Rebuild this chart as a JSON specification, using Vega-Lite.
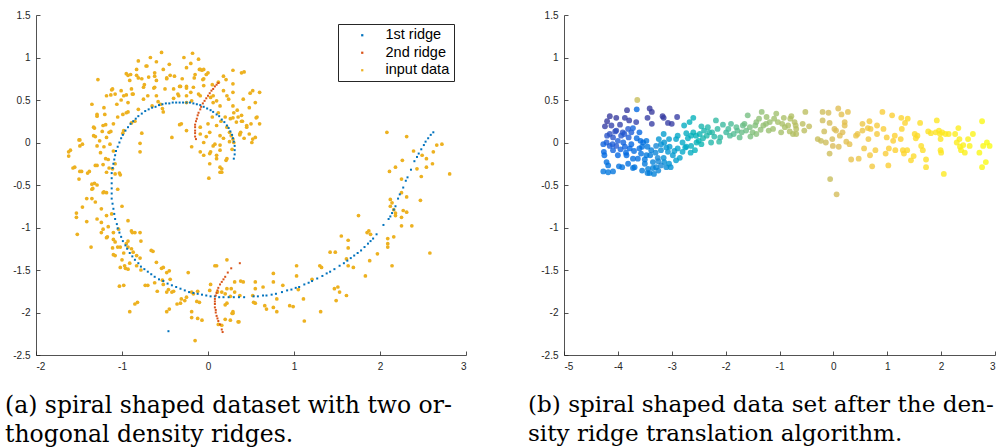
{
  "$schema": "https://vega.github.io/schema/vega-lite/v6.json",
  "padding": {"left": 5, "top": 10, "right": 0, "bottom": 0},
  "bounds": "flush",
  "spacing": 98,
  "config": {
    "view": {"stroke": null},
    "axis": {
      "grid": false,
      "title": null,
      "domainColor": "#262626",
      "tickColor": "#262626",
      "labelColor": "#262626",
      "labelFont": "Liberation Sans",
      "labelFontSize": 10,
      "domainWidth": 0.8,
      "tickWidth": 0.8,
      "tickSize": -4,
      "labelPadding": 10
    },
    "title": {"font": "DejaVu Serif", "fontSize": 23.5, "fontWeight": "normal", "color": "#000000", "lineHeight": 29}
  },
  "resolve": {"scale": {"x": "independent", "y": "independent", "color": "independent"}},
  "datasets": {
    "input": [
      {"x":-0.54,"y":1.06},{"x":-0.18,"y":1.05},{"x":-0.81,"y":0.96},{"x":-0.67,"y":1.0},{"x":-0.28,"y":1.0},{"x":-0.11,"y":0.98},{"x":-0.71,"y":0.9},{"x":-0.52,"y":0.86},{"x":-0.2,"y":0.93},{"x":-0.25,"y":0.88},{"x":-0.09,"y":0.86},{"x":-0.07,"y":0.85},{"x":-0.05,"y":0.86},{"x":0.0,"y":0.82},{"x":0.29,"y":0.85},{"x":0.42,"y":0.83},
      {"x":-0.95,"y":0.81},{"x":-0.83,"y":0.79},{"x":-0.62,"y":0.82},{"x":-0.44,"y":0.79},{"x":-1.28,"y":0.74},{"x":-0.91,"y":0.73},{"x":-0.77,"y":0.75},{"x":-0.69,"y":0.77},{"x":-0.6,"y":0.73},{"x":-0.48,"y":0.75},
      {"x":-1.12,"y":0.62},{"x":-1.01,"y":0.61},{"x":-0.89,"y":0.63},{"x":-0.75,"y":0.65},{"x":-0.62,"y":0.65},{"x":-0.5,"y":0.63},{"x":-0.4,"y":0.63},{"x":-0.33,"y":0.66},{"x":-0.25,"y":0.66},{"x":-0.17,"y":0.65},{"x":-0.05,"y":0.67},{"x":0.12,"y":0.71},{"x":0.18,"y":0.78},{"x":0.29,"y":0.69},
      {"x":-1.18,"y":0.55},{"x":-1.08,"y":0.57},{"x":-0.98,"y":0.55},{"x":-0.87,"y":0.57},{"x":-0.75,"y":0.51},{"x":-0.6,"y":0.55},{"x":-0.35,"y":0.57},{"x":-0.25,"y":0.55},{"x":-0.09,"y":0.55},{"x":0.06,"y":0.55},{"x":0.22,"y":0.55},{"x":0.49,"y":0.58},{"x":0.6,"y":0.59},
      {"x":-1.35,"y":0.45},{"x":-1.21,"y":0.41},{"x":-1.06,"y":0.45},{"x":-0.93,"y":0.47},{"x":-0.81,"y":0.39},{"x":-0.65,"y":0.43},{"x":-0.52,"y":0.36},{"x":-0.25,"y":0.47},{"x":-0.19,"y":0.49},{"x":0.06,"y":0.47},{"x":0.14,"y":0.43},{"x":0.24,"y":0.51},{"x":0.29,"y":0.43},{"x":0.55,"y":0.47},
      {"x":-1.29,"y":0.31},{"x":0.57,"y":0.3},{"x":0.39,"y":0.32},{"x":0.26,"y":0.28},{"x":0.33,"y":0.24},{"x":-1.33,"y":0.18},{"x":-1.22,"y":0.2},{"x":-1.1,"y":0.22},{"x":-0.98,"y":0.14},{"x":-0.31,"y":0.22},{"x":0.0,"y":0.22},{"x":0.1,"y":0.2},{"x":-0.09,"y":0.18},{"x":0.22,"y":0.18},{"x":0.45,"y":0.18},{"x":0.6,"y":0.22},
      {"x":-0.77,"y":0.11},{"x":-0.42,"y":0.06},{"x":-0.09,"y":0.1},{"x":0.02,"y":0.12},{"x":0.14,"y":0.08},{"x":0.27,"y":0.08},{"x":0.37,"y":0.1},{"x":0.55,"y":0.06},{"x":-1.33,"y":0.08},{"x":-1.26,"y":0.02},{"x":-1.18,"y":0.06},{"x":-1.5,"y":0.03},
      {"x":-1.62,"y":-0.11},{"x":-1.62,"y":-0.16},{"x":-1.49,"y":-0.04},{"x":-1.29,"y":-0.04},{"x":-1.14,"y":-0.02},{"x":-0.79,"y":-0.11},{"x":-0.19,"y":-0.05},{"x":-0.05,"y":0.0},{"x":0.06,"y":-0.04},{"x":-0.09,"y":-0.11},{"x":0.02,"y":-0.13},{"x":0.14,"y":-0.09},{"x":0.22,"y":-0.19},{"x":0.1,"y":-0.19},{"x":0.29,"y":0.04},{"x":0.51,"y":0.0},{"x":0.02,"y":-0.25},{"x":0.14,"y":-0.29},{"x":0.16,"y":-0.35},{"x":0.01,"y":-0.42},
      {"x":0.3,"y":0.35},{"x":0.35,"y":0.3},{"x":0.4,"y":0.25},{"x":0.45,"y":0.2},{"x":0.38,"y":0.12},{"x":0.42,"y":0.05},{"x":0.2,"y":0.3},{"x":0.15,"y":0.25},{"x":0.25,"y":0.12},{"x":0.3,"y":0.0},{"x":0.05,"y":0.3},{"x":0.12,"y":0.35},{"x":0.48,"y":0.1},{"x":0.5,"y":0.22},{"x":0.34,"y":0.38},{"x":0.18,"y":0.05},{"x":0.08,"y":-0.02},{"x":0.28,"y":-0.08},
      {"x":-1.05,"y":0.3},{"x":-0.95,"y":0.35},{"x":-1.15,"y":0.12},{"x":-0.85,"y":0.25},{"x":-0.7,"y":0.55},{"x":-0.55,"y":0.45},{"x":-0.4,"y":0.52},{"x":-0.15,"y":0.8},{"x":-0.3,"y":0.75},{"x":-0.6,"y":0.95},{"x":-0.45,"y":0.92},{"x":-0.05,"y":0.75},{"x":0.05,"y":0.68},{"x":-0.9,"y":0.8},{"x":-1.2,"y":0.33},{"x":-1.25,"y":-0.12},{"x":-1.1,"y":-0.1},{"x":-1.05,"y":-0.55},{"x":-1.0,"y":-0.75},{"x":-1.15,"y":-0.3},
      {"x":-1.11,"y":0.63},{"x":-1.13,"y":0.56},{"x":-1.29,"y":0.33},{"x":-1.19,"y":0.21},{"x":-1.31,"y":0.07},{"x":-1.23,"y":0.13},{"x":-1.13,"y":0.13},{"x":-0.99,"y":0.11},{"x":-1.32,"y":0.17},{"x":-1.49,"y":0.03},{"x":-1.6,"y":-0.09},{"x":-1.46,"y":-0.02},{"x":-1.21,"y":-0.05},{"x":-1.55,"y":-0.29},{"x":-1.47,"y":-0.34},{"x":-1.38,"y":-0.34},{"x":-1.29,"y":-0.27},{"x":-1.16,"y":-0.2},{"x":-1.11,"y":-0.31},{"x":-1.03,"y":-0.36},{"x":-1.32,"y":-0.48},{"x":-1.21,"y":-0.58},{"x":-1.34,"y":-0.54},
      {"x":-0.72,"y":0.9},{"x":-0.83,"y":0.86},{"x":-0.93,"y":0.79},{"x":-0.81,"y":0.76},{"x":-0.62,"y":0.78},{"x":-0.48,"y":0.76},{"x":-0.39,"y":0.78},{"x":-0.1,"y":0.86},{"x":-0.02,"y":0.8},{"x":-0.06,"y":0.74},{"x":-0.16,"y":0.76},{"x":-0.25,"y":0.64},{"x":-0.32,"y":0.66},{"x":-0.63,"y":0.64},{"x":-0.74,"y":0.68},{"x":-0.88,"y":0.57},{"x":-0.95,"y":0.56},{"x":-1.01,"y":0.5},{"x":-0.93,"y":0.36},{"x":-0.99,"y":0.33},{"x":-0.89,"y":0.23},{"x":-0.58,"y":0.48},{"x":-0.53,"y":0.4},{"x":-0.34,"y":0.55},{"x":-0.2,"y":0.59},{"x":-0.11,"y":0.57},{"x":0.03,"y":0.53},{"x":0.1,"y":0.49},{"x":0.18,"y":0.61},{"x":0.39,"y":0.82},{"x":0.21,"y":0.74},{"x":0.29,"y":0.59},{"x":0.41,"y":0.51},{"x":0.52,"y":0.61},{"x":0.48,"y":0.41},{"x":0.29,"y":0.29},{"x":0.39,"y":0.25},{"x":0.56,"y":0.29},{"x":0.52,"y":0.04},{"x":0.37,"y":0.09},{"x":0.25,"y":0.01},{"x":0.14,"y":-0.03},{"x":0.03,"y":-0.11},{"x":0.1,"y":-0.15},{"x":0.21,"y":-0.21},{"x":-0.05,"y":-0.15},{"x":-0.02,"y":0.07},{"x":-0.25,"y":0.14},{"x":-0.33,"y":0.21},{"x":-0.79,"y":-0.01},{"x":0.14,"y":-0.35},{"x":0.16,"y":-0.31},
      {"x":-1.57,"y":-0.3},{"x":-1.49,"y":-0.34},{"x":-1.5,"y":-0.43},{"x":-1.4,"y":-0.36},{"x":-1.31,"y":-0.27},{"x":-1.22,"y":-0.26},{"x":-1.18,"y":-0.35},{"x":-1.08,"y":-0.37},{"x":-1.02,"y":-0.38},{"x":-1.19,"y":-0.19},{"x":-1.08,"y":-0.25},
      {"x":-1.35,"y":-0.49},{"x":-1.29,"y":-0.5},{"x":-1.35,"y":-0.55},{"x":-1.22,"y":-0.59},{"x":-1.18,"y":-0.59},{"x":-1.41,"y":-0.66},{"x":-1.35,"y":-0.66},{"x":-1.31,"y":-0.7},{"x":-1.46,"y":-0.76},{"x":-1.53,"y":-0.83},{"x":-1.53,"y":-0.88},{"x":-1.29,"y":-0.9},{"x":-1.24,"y":-0.78},{"x":-1.18,"y":-0.86},{"x":-1.12,"y":-0.84},
      {"x":-1.41,"y":-0.93},{"x":-1.24,"y":-0.94},{"x":-1.22,"y":-1.02},{"x":-1.24,"y":-1.06},{"x":-1.18,"y":-1.12},{"x":-1.52,"y":-1.08},{"x":-1.36,"y":-1.23},{"x":-1.1,"y":-1.06},{"x":-1.04,"y":-1.02},{"x":-0.93,"y":-0.92},{"x":-0.89,"y":-1.04},{"x":-0.85,"y":-1.06},{"x":-0.79,"y":-1.06},
      {"x":-1.16,"y":-0.99},{"x":-1.17,"y":-1.11},{"x":-1.1,"y":-1.14},{"x":-1.05,"y":-1.23},{"x":-1.11,"y":-1.24},{"x":-0.93,"y":-1.16},{"x":-0.88,"y":-1.06},{"x":-0.78,"y":-1.16},{"x":-0.93,"y":-1.23},{"x":-0.87,"y":-1.29},{"x":-0.79,"y":-1.36},{"x":-0.98,"y":-1.3},{"x":-1.1,"y":-1.32},{"x":-1.0,"y":-1.38},{"x":-0.91,"y":-1.42},{"x":-0.96,"y":-1.48},{"x":-0.78,"y":-1.5},{"x":-0.64,"y":-1.28},{"x":-0.54,"y":-1.48},{"x":-0.45,"y":-1.51},{"x":-0.7,"y":-1.68},{"x":-0.53,"y":-1.62},{"x":-0.46,"y":-1.73},{"x":-0.4,"y":-1.75},{"x":-0.23,"y":-1.53},{"x":-0.32,"y":-1.89},{"x":-0.25,"y":-1.82},{"x":-0.12,"y":-1.75},{"x":-0.13,"y":-1.87},{"x":-0.12,"y":-2.07},{"x":-0.45,"y":-1.96},{"x":-0.82,"y":-1.88},{"x":0.08,"y":-1.45},{"x":0.11,"y":-1.76},{"x":0.2,"y":-1.78},{"x":0.27,"y":-1.72},{"x":0.38,"y":-1.63},{"x":0.37,"y":-1.8},{"x":0.2,"y":-1.91},{"x":0.28,"y":-2.01},{"x":0.2,"y":-2.08},{"x":0.36,"y":-2.11},{"x":0.12,"y":-2.14},{"x":0.52,"y":-1.8},{"x":0.55,"y":-1.89},
      {"x":-1.08,"y":-1.17},{"x":-1.02,"y":-1.23},{"x":-1.08,"y":-1.33},{"x":-0.95,"y":-1.19},{"x":-0.89,"y":-1.25},{"x":-0.83,"y":-1.33},{"x":-1.02,"y":-1.47},{"x":-0.97,"y":-1.45},{"x":-0.93,"y":-1.49},{"x":-0.83,"y":-1.45},{"x":-0.66,"y":-1.27},{"x":-0.6,"y":-1.41},{"x":-0.52,"y":-1.47},{"x":-0.48,"y":-1.53},{"x":-0.44,"y":-1.61},
      {"x":-0.62,"y":-1.65},{"x":-0.52,"y":-1.67},{"x":-0.73,"y":-1.68},{"x":-1.03,"y":-1.69},{"x":-0.98,"y":-1.68},{"x":-0.59,"y":-1.75},{"x":-0.48,"y":-1.76},{"x":-0.42,"y":-1.76},{"x":-0.85,"y":-1.9},{"x":-0.91,"y":-1.99},{"x":-0.48,"y":-1.99},{"x":-0.31,"y":-1.84},{"x":-0.27,"y":-1.86},{"x":-0.36,"y":-1.9},
      {"x":-0.19,"y":-1.76},{"x":-0.17,"y":-1.78},{"x":-0.1,"y":-1.88},{"x":-0.19,"y":-1.99},{"x":-0.19,"y":-2.06},{"x":-0.07,"y":-2.09},{"x":-0.15,"y":-2.33},{"x":0.03,"y":-1.67},{"x":0.1,"y":-1.45},{"x":0.22,"y":-1.38},{"x":0.02,"y":-1.74},{"x":0.16,"y":-1.76},{"x":0.22,"y":-1.72},{"x":0.31,"y":-1.64},
      {"x":0.26,"y":-1.81},{"x":0.22,"y":-1.89},{"x":0.29,"y":-1.99},{"x":0.29,"y":-2.01},{"x":0.26,"y":-2.09},{"x":0.35,"y":-2.11},{"x":0.16,"y":-2.15},{"x":0.41,"y":-1.64},{"x":0.31,"y":-1.76},
      {"x":0.55,"y":-1.64},{"x":0.55,"y":-1.72},{"x":0.53,"y":-1.88},{"x":0.64,"y":-1.7},{"x":0.66,"y":-1.92},{"x":0.76,"y":-1.54},{"x":0.76,"y":-1.64},{"x":0.68,"y":-1.96},{"x":0.76,"y":-1.94},{"x":0.8,"y":-1.99},{"x":0.8,"y":-1.84},{"x":0.87,"y":-1.68},{"x":0.95,"y":-1.92},{"x":0.99,"y":-1.93},
      {"x":1.03,"y":-1.45},{"x":1.03,"y":-1.57},{"x":1.05,"y":-1.73},{"x":1.11,"y":-1.84},{"x":1.12,"y":-2.1},{"x":1.21,"y":-1.61},{"x":1.3,"y":-1.45},{"x":1.32,"y":-1.47},{"x":1.31,"y":-1.99},{"x":1.42,"y":-1.29},{"x":1.48,"y":-1.29},{"x":1.55,"y":-1.1},{"x":1.63,"y":-1.15},{"x":1.63,"y":-1.24},{"x":1.61,"y":-1.37},{"x":1.63,"y":-1.45},{"x":1.69,"y":-1.47},
      {"x":1.51,"y":-1.7},{"x":1.47,"y":-1.72},{"x":1.53,"y":-1.76},{"x":1.61,"y":-1.8},{"x":1.49,"y":-1.86},{"x":1.75,"y":-0.86},{"x":1.85,"y":-1.06},{"x":1.87,"y":-1.04},{"x":1.89,"y":-1.08},{"x":1.88,"y":-1.39},{"x":1.83,"y":-1.57},{"x":1.97,"y":-1.31},
      {"x":2.09,"y":-1.13},{"x":2.09,"y":-1.19},{"x":2.09,"y":-1.23},{"x":2.14,"y":-1.45},{"x":2.16,"y":-1.11},{"x":2.12,"y":-0.67},{"x":2.14,"y":-0.71},{"x":2.16,"y":-0.79},{"x":2.18,"y":-0.83},{"x":2.12,"y":-0.75},{"x":2.18,"y":-0.86},{"x":2.25,"y":-0.59},{"x":2.27,"y":-0.8},{"x":2.31,"y":-0.82},{"x":2.25,"y":-0.88},{"x":2.25,"y":-0.98},{"x":2.37,"y":-0.98},{"x":2.47,"y":-0.68},{"x":2.31,"y":-0.64},
      {"x":2.08,"y":0.12},{"x":2.11,"y":-0.34},{"x":2.18,"y":-0.29},{"x":2.26,"y":-0.21},{"x":2.25,"y":-0.43},{"x":2.31,"y":0.07},{"x":2.39,"y":-0.1},{"x":2.43,"y":-0.31},{"x":2.48,"y":-0.4},{"x":2.49,"y":-0.15},{"x":2.54,"y":-0.19},{"x":2.62,"y":-0.11},{"x":2.66,"y":-0.03},{"x":2.72,"y":-0.02},{"x":2.61,"y":-0.25},{"x":2.54,"y":-0.29},{"x":2.81,"y":-0.37},{"x":2.58,"y":-1.3}
    ],
    "ridge1": [
      {"x":0.3,"y":-0.19},{"x":0.31,"y":-0.14},{"x":0.31,"y":-0.09},{"x":0.31,"y":-0.04},{"x":0.3,"y":0.01},{"x":0.29,"y":0.05},{"x":0.28,"y":0.09},{"x":0.26,"y":0.13},{"x":0.24,"y":0.17},{"x":0.22,"y":0.2},{"x":0.19,"y":0.24},{"x":0.16,"y":0.27},{"x":0.13,"y":0.31},{"x":0.1,"y":0.33},{"x":0.06,"y":0.36},{"x":0.03,"y":0.38},{"x":-0.01,"y":0.4},{"x":-0.05,"y":0.42},{"x":-0.09,"y":0.44},{"x":-0.13,"y":0.45},{"x":-0.17,"y":0.46},{"x":-0.21,"y":0.47},{"x":-0.25,"y":0.47},{"x":-0.29,"y":0.47},{"x":-0.33,"y":0.47},{"x":-0.37,"y":0.47},{"x":-0.41,"y":0.47},{"x":-0.45,"y":0.46},{"x":-0.49,"y":0.46},{"x":-0.53,"y":0.45},{"x":-0.57,"y":0.44},{"x":-0.61,"y":0.42},{"x":-0.65,"y":0.41},{"x":-0.69,"y":0.39},{"x":-0.73,"y":0.37},{"x":-0.77,"y":0.34},{"x":-0.81,"y":0.31},{"x":-0.84,"y":0.28},{"x":-0.87,"y":0.25},{"x":-0.9,"y":0.22},{"x":-0.93,"y":0.18},{"x":-0.96,"y":0.14},{"x":-0.99,"y":0.09},{"x":-1.01,"y":0.05},{"x":-1.03,"y":0.0},{"x":-1.05,"y":-0.05},{"x":-1.07,"y":-0.1},{"x":-1.08,"y":-0.15},{"x":-1.09,"y":-0.2},{"x":-1.1,"y":-0.25},{"x":-1.11,"y":-0.3},{"x":-1.12,"y":-0.36},{"x":-1.12,"y":-0.42},{"x":-1.12,"y":-0.48},{"x":-1.12,"y":-0.54},{"x":-1.12,"y":-0.6},{"x":-1.12,"y":-0.66},{"x":-1.11,"y":-0.72},{"x":-1.1,"y":-0.78},{"x":-1.09,"y":-0.84},{"x":-1.08,"y":-0.9},{"x":-1.06,"y":-0.96},{"x":-1.05,"y":-1.01},{"x":-1.03,"y":-1.06},{"x":-1.01,"y":-1.11},{"x":-0.99,"y":-1.16},{"x":-0.96,"y":-1.21},{"x":-0.94,"y":-1.25},{"x":-0.91,"y":-1.3},{"x":-0.88,"y":-1.34},{"x":-0.85,"y":-1.38},{"x":-0.81,"y":-1.42},{"x":-0.78,"y":-1.46},{"x":-0.74,"y":-1.49},{"x":-0.7,"y":-1.52},{"x":-0.66,"y":-1.55},{"x":-0.62,"y":-1.58},{"x":-0.57,"y":-1.61},{"x":-0.52,"y":-1.63},{"x":-0.47,"y":-1.66},{"x":-0.42,"y":-1.68},{"x":-0.37,"y":-1.7},{"x":-0.32,"y":-1.72},{"x":-0.27,"y":-1.74},{"x":-0.22,"y":-1.76},{"x":-0.17,"y":-1.77},{"x":-0.12,"y":-1.78},{"x":-0.07,"y":-1.79},{"x":-0.02,"y":-1.8},{"x":0.03,"y":-1.81},{"x":0.08,"y":-1.81},{"x":0.13,"y":-1.82},{"x":0.18,"y":-1.82},{"x":0.24,"y":-1.82},{"x":0.3,"y":-1.82},{"x":0.36,"y":-1.82},{"x":0.42,"y":-1.82},{"x":0.53,"y":-1.81},{"x":0.58,"y":-1.81},{"x":0.64,"y":-1.8},{"x":0.68,"y":-1.8},{"x":0.74,"y":-1.79},{"x":0.79,"y":-1.78},{"x":0.86,"y":-1.76},{"x":0.92,"y":-1.74},{"x":0.97,"y":-1.73},{"x":1.02,"y":-1.71},{"x":1.06,"y":-1.7},{"x":1.12,"y":-1.67},{"x":1.17,"y":-1.65},{"x":1.21,"y":-1.63},{"x":1.27,"y":-1.6},{"x":1.33,"y":-1.57},{"x":1.38,"y":-1.54},{"x":1.42,"y":-1.52},{"x":1.47,"y":-1.49},{"x":1.53,"y":-1.45},{"x":1.58,"y":-1.42},{"x":1.62,"y":-1.39},{"x":1.66,"y":-1.36},{"x":1.7,"y":-1.33},{"x":1.74,"y":-1.3},{"x":1.78,"y":-1.27},{"x":1.82,"y":-1.23},{"x":1.86,"y":-1.19},{"x":1.89,"y":-1.16},{"x":1.92,"y":-1.13},{"x":1.96,"y":-1.08},{"x":2.04,"y":-0.97},{"x":2.1,"y":-0.9},{"x":2.12,"y":-0.87},{"x":2.14,"y":-0.83},{"x":2.16,"y":-0.79},{"x":2.18,"y":-0.75},{"x":2.21,"y":-0.66},{"x":2.23,"y":-0.61},{"x":2.27,"y":-0.53},{"x":2.3,"y":-0.45},{"x":2.32,"y":-0.41},{"x":2.36,"y":-0.32},{"x":2.4,"y":-0.22},{"x":2.43,"y":-0.17},{"x":2.45,"y":-0.13},{"x":2.48,"y":-0.08},{"x":2.51,"y":-0.03},{"x":2.53,"y":0.01},{"x":2.56,"y":0.05},{"x":2.59,"y":0.09},{"x":2.62,"y":0.12},{"x":-0.46,"y":-2.22}
    ],
    "ridge2": [
      {"x":0.12,"y":0.7},{"x":0.1,"y":0.68},{"x":0.08,"y":0.66},{"x":0.06,"y":0.63},{"x":0.04,"y":0.61},{"x":0.02,"y":0.58},{"x":0.0,"y":0.55},{"x":-0.02,"y":0.52},{"x":-0.04,"y":0.49},{"x":-0.06,"y":0.46},{"x":-0.08,"y":0.42},{"x":-0.09,"y":0.39},{"x":-0.11,"y":0.35},{"x":-0.12,"y":0.32},{"x":-0.13,"y":0.28},{"x":-0.14,"y":0.25},{"x":-0.15,"y":0.21},{"x":-0.15,"y":0.18},{"x":-0.15,"y":0.14},{"x":-0.15,"y":0.11},{"x":-0.15,"y":0.07},{"x":-0.14,"y":0.04},
      {"x":0.37,"y":-1.42},{"x":0.27,"y":-1.48},{"x":0.23,"y":-1.53},{"x":0.2,"y":-1.58},{"x":0.18,"y":-1.61},{"x":0.16,"y":-1.64},{"x":0.14,"y":-1.67},{"x":0.12,"y":-1.71},{"x":0.11,"y":-1.74},{"x":0.1,"y":-1.77},{"x":0.09,"y":-1.8},{"x":0.08,"y":-1.84},{"x":0.08,"y":-1.87},{"x":0.08,"y":-1.9},{"x":0.08,"y":-1.94},{"x":0.09,"y":-1.97},{"x":0.09,"y":-2.0},{"x":0.1,"y":-2.04},{"x":0.11,"y":-2.07},{"x":0.12,"y":-2.1},{"x":0.14,"y":-2.14},{"x":0.16,"y":-2.2},{"x":0.17,"y":-2.23}
    ],
    "translated": [
      {"x":-3.64,"y":0.5,"t":0.72},
      {"x":-4.15,"y":0.31,"t":0.03},{"x":-4.24,"y":0.19,"t":0.04},{"x":-4.2,"y":0.25,"t":0.03},{"x":-4.03,"y":0.29,"t":0.03},{"x":-3.83,"y":0.38,"t":0.03},{"x":-3.87,"y":0.29,"t":0.04},{"x":-3.79,"y":0.26,"t":0.04},{"x":-3.66,"y":0.24,"t":0.05},{"x":-3.41,"y":0.4,"t":0.03},{"x":-3.37,"y":0.36,"t":0.03},{"x":-3.45,"y":0.29,"t":0.04},{"x":-3.37,"y":0.22,"t":0.04},{"x":-3.17,"y":0.31,"t":0.03},{"x":-3.15,"y":0.29,"t":0.04},{"x":-3.07,"y":0.23,"t":0.04},{"x":-3.0,"y":0.22,"t":0.04},{"x":-2.9,"y":0.3,"t":0.04},{"x":-4.12,"y":0.2,"t":0.05},{"x":-3.96,"y":0.21,"t":0.05},{"x":-3.65,"y":0.39,"t":0.14},
      {"x":-4.15,"y":0.1,"t":0.08},{"x":-4.03,"y":0.14,"t":0.07},{"x":-3.91,"y":0.12,"t":0.09},{"x":-3.81,"y":0.16,"t":0.1},{"x":-3.72,"y":0.17,"t":0.12},{"x":-3.75,"y":0.12,"t":0.11},{"x":-3.94,"y":0.08,"t":0.1},{"x":-4.09,"y":0.06,"t":0.09},{"x":-4.21,"y":0.0,"t":0.11},{"x":-4.27,"y":-0.02,"t":0.12},{"x":-4.26,"y":-0.11,"t":0.13},{"x":-4.15,"y":-0.04,"t":0.11},{"x":-4.09,"y":-0.09,"t":0.12},{"x":-4.03,"y":-0.04,"t":0.1},{"x":-4.0,"y":-0.15,"t":0.13},{"x":-3.84,"y":-0.15,"t":0.14},{"x":-3.87,"y":-0.05,"t":0.12},{"x":-3.78,"y":-0.07,"t":0.13},{"x":-3.72,"y":-0.19,"t":0.16},
      {"x":-4.21,"y":-0.23,"t":0.16},{"x":-4.18,"y":-0.27,"t":0.17},{"x":-4.27,"y":-0.34,"t":0.18},{"x":-4.18,"y":-0.35,"t":0.19},{"x":-4.09,"y":-0.34,"t":0.18},{"x":-3.92,"y":-0.29,"t":0.17},{"x":-3.81,"y":-0.25,"t":0.16},{"x":-3.69,"y":-0.29,"t":0.17},{"x":-3.63,"y":-0.19,"t":0.16},{"x":-3.6,"y":-0.07,"t":0.15},{"x":-3.53,"y":0.0,"t":0.16},{"x":-3.47,"y":0.02,"t":0.18},{"x":-3.57,"y":-0.13,"t":0.17},{"x":-3.47,"y":-0.15,"t":0.2},{"x":-3.5,"y":-0.25,"t":0.2},{"x":-3.44,"y":-0.31,"t":0.22},{"x":-3.41,"y":-0.36,"t":0.22},{"x":-3.33,"y":-0.37,"t":0.23},{"x":-3.29,"y":-0.29,"t":0.24},{"x":-3.35,"y":-0.23,"t":0.23},{"x":-3.26,"y":-0.18,"t":0.25},{"x":-3.38,"y":-0.09,"t":0.22},{"x":-3.29,"y":-0.04,"t":0.25},{"x":-3.2,"y":-0.09,"t":0.27},{"x":-3.14,"y":-0.23,"t":0.27},{"x":-3.1,"y":-0.29,"t":0.26},{"x":-3.02,"y":-0.29,"t":0.28},{"x":-3.2,"y":-0.27,"t":0.25},
      {"x":-3.24,"y":0.04,"t":0.3},{"x":-3.15,"y":0.1,"t":0.33},{"x":-3.05,"y":0.04,"t":0.32},{"x":-3.14,"y":0.0,"t":0.3},{"x":-3.04,"y":-0.05,"t":0.31},{"x":-3.07,"y":-0.11,"t":0.3},{"x":-2.98,"y":-0.15,"t":0.32},{"x":-2.92,"y":-0.21,"t":0.33},{"x":-2.89,"y":-0.07,"t":0.35},{"x":-2.92,"y":0.04,"t":0.36},{"x":-2.89,"y":0.08,"t":0.37},{"x":-2.8,"y":0.0,"t":0.38},{"x":-2.8,"y":-0.11,"t":0.37},{"x":-2.77,"y":0.2,"t":0.4},{"x":-2.67,"y":0.24,"t":0.42},{"x":-2.6,"y":0.29,"t":0.42},{"x":-2.73,"y":0.11,"t":0.4},{"x":-2.64,"y":0.08,"t":0.42},{"x":-2.6,"y":0.12,"t":0.43},{"x":-2.54,"y":0.0,"t":0.43},{"x":-2.64,"y":-0.04,"t":0.41},{"x":-2.73,"y":-0.05,"t":0.39},{"x":-2.57,"y":-0.09,"t":0.42},
      {"x":-2.45,"y":0.19,"t":0.46},{"x":-2.48,"y":0.1,"t":0.45},{"x":-2.42,"y":0.05,"t":0.46},{"x":-2.33,"y":0.18,"t":0.47},{"x":-2.3,"y":0.12,"t":0.47},{"x":-2.21,"y":0.07,"t":0.48},{"x":-2.18,"y":0.26,"t":0.49},{"x":-2.27,"y":0.0,"t":0.47},{"x":-2.12,"y":0.01,"t":0.49},{"x":-2.05,"y":0.21,"t":0.5},{"x":-1.99,"y":0.12,"t":0.5},{"x":-1.92,"y":0.08,"t":0.52},{"x":-1.9,"y":0.22,"t":0.52},{"x":-1.78,"y":0.14,"t":0.54},{"x":-1.74,"y":0.06,"t":0.55},{"x":-1.68,"y":0.2,"t":0.56},{"x":-1.59,"y":0.32,"t":0.58},{"x":-1.55,"y":0.18,"t":0.59},{"x":-1.62,"y":0.14,"t":0.57},{"x":-1.54,"y":0.07,"t":0.59},{"x":-1.43,"y":0.24,"t":0.61},{"x":-1.43,"y":0.1,"t":0.61},
      {"x":-1.33,"y":0.36,"t":0.62},{"x":-1.3,"y":0.2,"t":0.63},{"x":-1.24,"y":0.3,"t":0.64},{"x":-1.18,"y":0.24,"t":0.64},{"x":-1.12,"y":0.16,"t":0.65},{"x":-1.06,"y":0.34,"t":0.65},{"x":-1.03,"y":0.24,"t":0.66},{"x":-0.97,"y":0.12,"t":0.66},{"x":-0.92,"y":0.29,"t":0.67},{"x":-0.84,"y":0.2,"t":0.68},{"x":-0.78,"y":0.31,"t":0.68},{"x":-0.75,"y":0.1,"t":0.68},{"x":-0.72,"y":0.24,"t":0.69},{"x":-0.69,"y":0.16,"t":0.69},{"x":-0.57,"y":0.22,"t":0.7},{"x":-0.52,"y":0.36,"t":0.7},{"x":-0.54,"y":0.14,"t":0.7},{"x":-0.45,"y":0.19,"t":0.71},{"x":-0.69,"y":0.1,"t":0.69},{"x":-0.81,"y":0.13,"t":0.68},
      {"x":-4.1,"y":-0.02,"t":0.11},{"x":-4.0,"y":0.02,"t":0.11},{"x":-3.95,"y":-0.08,"t":0.12},{"x":-3.9,"y":0.0,"t":0.12},{"x":-3.85,"y":-0.12,"t":0.14},{"x":-3.75,"y":-0.02,"t":0.13},{"x":-3.7,"y":-0.1,"t":0.15},{"x":-3.65,"y":0.05,"t":0.14},{"x":-3.55,"y":-0.05,"t":0.17},{"x":-3.5,"y":-0.2,"t":0.19},{"x":-3.45,"y":-0.05,"t":0.19},{"x":-3.4,"y":-0.15,"t":0.21},{"x":-3.35,"y":-0.3,"t":0.23},{"x":-3.3,"y":-0.12,"t":0.24},{"x":-3.25,"y":-0.22,"t":0.25},{"x":-3.2,"y":-0.02,"t":0.28},{"x":-3.15,"y":-0.18,"t":0.28},{"x":-3.1,"y":-0.06,"t":0.3},{"x":-3.05,"y":-0.25,"t":0.29},{"x":-2.95,"y":-0.1,"t":0.33},{"x":-2.85,"y":-0.18,"t":0.35},{"x":-2.75,"y":-0.06,"t":0.38},{"x":-2.7,"y":0.05,"t":0.4},{"x":-2.65,"y":-0.12,"t":0.4},{"x":-2.55,"y":0.08,"t":0.43},{"x":-2.5,"y":0.02,"t":0.44},{"x":-2.45,"y":-0.02,"t":0.45},{"x":-2.4,"y":0.14,"t":0.46},{"x":-2.35,"y":0.08,"t":0.47},{"x":-2.25,"y":0.12,"t":0.48},{"x":-2.15,"y":0.16,"t":0.49},{"x":-2.1,"y":0.06,"t":0.49},{"x":-1.95,"y":0.16,"t":0.51},{"x":-1.85,"y":0.1,"t":0.53},{"x":-1.8,"y":0.18,"t":0.54},{"x":-1.7,"y":0.12,"t":0.56},{"x":-1.65,"y":0.22,"t":0.57},{"x":-1.5,"y":0.12,"t":0.6},{"x":-1.45,"y":0.2,"t":0.6},{"x":-1.38,"y":0.28,"t":0.62},{"x":-1.35,"y":0.15,"t":0.62},{"x":-1.25,"y":0.22,"t":0.63},{"x":-1.2,"y":0.14,"t":0.64},{"x":-1.1,"y":0.28,"t":0.65},{"x":-0.95,"y":0.22,"t":0.67},{"x":-0.9,"y":0.18,"t":0.67},{"x":-0.8,"y":0.28,"t":0.68},{"x":-0.7,"y":0.2,"t":0.69},{"x":-3.6,"y":0.12,"t":0.13},{"x":-3.8,"y":0.06,"t":0.11},{"x":-4.05,"y":0.13,"t":0.08},{"x":-4.2,"y":0.08,"t":0.09},{"x":-4.25,"y":-0.15,"t":0.14},{"x":-3.98,"y":-0.28,"t":0.17},{"x":-3.72,"y":-0.3,"t":0.18},{"x":-3.55,"y":-0.33,"t":0.2},{"x":-3.45,"y":-0.36,"t":0.21},{"x":-3.25,"y":-0.33,"t":0.24},{"x":-3.58,"y":0.02,"t":0.15},{"x":-3.88,"y":0.1,"t":0.1},
      {"x":-0.29,"y":0.04,"t":0.72},{"x":-0.23,"y":0.02,"t":0.72},{"x":-0.2,"y":0.36,"t":0.73},{"x":-0.2,"y":0.26,"t":0.73},{"x":-0.17,"y":0.13,"t":0.73},{"x":-0.14,"y":0.0,"t":0.73},{"x":-0.09,"y":0.35,"t":0.74},{"x":-0.07,"y":-0.13,"t":0.73},{"x":-0.06,"y":-0.43,"t":0.72},{"x":-0.07,"y":0.23,"t":0.74},{"x":-0.02,"y":0.04,"t":0.74},{"x":0.02,"y":0.16,"t":0.75},{"x":-0.01,"y":-0.04,"t":0.75},{"x":0.05,"y":0.14,"t":0.76},{"x":0.09,"y":0.4,"t":0.77},{"x":0.1,"y":-0.05,"t":0.76},{"x":0.12,"y":0.08,"t":0.77},{"x":0.15,"y":0.33,"t":0.78},{"x":0.17,"y":0.12,"t":0.77},{"x":0.21,"y":0.24,"t":0.78},{"x":0.21,"y":0.2,"t":0.78},{"x":0.24,"y":0.01,"t":0.78},{"x":0.06,"y":-0.61,"t":0.74},{"x":0.27,"y":0.36,"t":0.79},{"x":0.3,"y":-0.02,"t":0.79},{"x":0.33,"y":-0.2,"t":0.8},
      {"x":0.42,"y":0.08,"t":0.81},{"x":0.45,"y":0.1,"t":0.81},{"x":0.47,"y":-0.19,"t":0.81},{"x":0.54,"y":0.14,"t":0.82},{"x":0.54,"y":0.22,"t":0.82},{"x":0.57,"y":-0.07,"t":0.83},{"x":0.64,"y":0.17,"t":0.83},{"x":0.65,"y":0.04,"t":0.83},{"x":0.67,"y":0.25,"t":0.84},{"x":0.68,"y":-0.15,"t":0.84},{"x":0.69,"y":0.16,"t":0.84},{"x":0.72,"y":-0.28,"t":0.84},{"x":0.78,"y":-0.09,"t":0.85},{"x":0.81,"y":0.2,"t":0.85},{"x":0.81,"y":0.1,"t":0.85},{"x":0.91,"y":0.36,"t":0.86},{"x":0.93,"y":0.16,"t":0.86},{"x":0.97,"y":-0.13,"t":0.86},{"x":0.99,"y":0.06,"t":0.86},{"x":1.02,"y":-0.27,"t":0.87},{"x":1.03,"y":-0.07,"t":0.87},{"x":1.09,"y":0.32,"t":0.87},{"x":1.11,"y":0.02,"t":0.87},{"x":1.14,"y":0.08,"t":0.88},{"x":1.15,"y":-0.09,"t":0.88},
      {"x":1.25,"y":0.04,"t":0.88},{"x":1.26,"y":0.29,"t":0.89},{"x":1.27,"y":0.16,"t":0.89},{"x":1.29,"y":-0.09,"t":0.89},{"x":1.31,"y":-0.13,"t":0.89},{"x":1.33,"y":0.23,"t":0.89},{"x":1.37,"y":-0.09,"t":0.9},{"x":1.38,"y":0.28,"t":0.9},{"x":1.44,"y":-0.21,"t":0.9},{"x":1.49,"y":-0.16,"t":0.91},{"x":1.51,"y":0.1,"t":0.91},{"x":1.53,"y":0.05,"t":0.91},{"x":1.56,"y":0.08,"t":0.91},{"x":1.61,"y":0.23,"t":0.92},{"x":1.63,"y":-0.04,"t":0.92},{"x":1.66,"y":-0.09,"t":0.92},{"x":1.72,"y":-0.2,"t":0.92},{"x":1.72,"y":-0.29,"t":0.92},{"x":1.76,"y":0.13,"t":0.93},{"x":1.81,"y":0.11,"t":0.93},{"x":1.9,"y":0.12,"t":0.93},{"x":1.92,"y":0.26,"t":0.94},{"x":1.96,"y":0.14,"t":0.94},{"x":1.98,"y":0.1,"t":0.94},{"x":1.99,"y":0.04,"t":0.94},{"x":1.99,"y":-0.09,"t":0.94},{"x":2.0,"y":-0.12,"t":0.94},{"x":2.02,"y":0.12,"t":0.94},{"x":2.05,"y":-0.37,"t":0.95},{"x":2.08,"y":0.1,"t":0.95},{"x":2.14,"y":0.1,"t":0.95},
      {"x":2.26,"y":0.1,"t":0.96},{"x":2.29,"y":0.0,"t":0.96},{"x":2.32,"y":0.17,"t":0.96},{"x":2.34,"y":0.04,"t":0.96},{"x":2.35,"y":-0.05,"t":0.97},{"x":2.37,"y":-0.09,"t":0.97},{"x":2.41,"y":-0.03,"t":0.97},{"x":2.44,"y":-0.12,"t":0.97},{"x":2.5,"y":0.04,"t":0.97},{"x":2.53,"y":-0.04,"t":0.98},{"x":2.59,"y":0.1,"t":0.98},{"x":2.71,"y":-0.12,"t":0.99},{"x":2.76,"y":0.25,"t":0.99},{"x":2.76,"y":-0.29,"t":0.99},{"x":2.78,"y":-0.04,"t":0.99},{"x":2.83,"y":-0.23,"t":1.0},{"x":2.85,"y":0.0,"t":1.0},{"x":2.9,"y":-0.04,"t":1.0}
    ]
  },
  "hconcat": [
    {
      "width": 430,
      "height": 340,
      "title": {
        "text": ["(a) spiral shaped dataset with two or-", "thogonal density ridges."],
        "orient": "bottom",
        "anchor": "start",
        "frame": "group",
        "baseline": "top",
        "dx": -31,
        "offset": 23
      },
      "encoding": {
        "x": {"field": "x", "type": "quantitative", "scale": {"domain": [-2, 3], "nice": false, "zero": false}, "axis": {"values": [-2, -1, 0, 1, 2, 3], "labelExpr": "'' + datum.value"}},
        "y": {"field": "y", "type": "quantitative", "scale": {"domain": [-2.5, 1.5], "nice": false, "zero": false}, "axis": {"values": [-2.5, -2, -1.5, -1, -0.5, 0, 0.5, 1, 1.5], "labelExpr": "'' + datum.value"}}
      },
      "layer": [
        {
          "data": {"name": "input"},
          "mark": {"type": "point", "shape": "circle", "filled": true, "size": 14, "opacity": 1},
          "encoding": {
            "color": {
              "datum": "input data",
              "type": "nominal",
              "scale": {"domain": ["1st ridge", "2nd ridge", "input data"], "range": ["#0072BD", "#D95319", "#EDB120"]},
              "legend": {
                "title": " ",
                "titleOrient": "left",
                "titleFontSize": 1,
                "titlePadding": 13,
                "orient": "none",
                "legendX": 302,
                "legendY": 9,
                "strokeColor": "#262626",
                "fillColor": "#ffffff",
                "padding": 4,
                "rowPadding": 2.5,
                "labelFont": "Liberation Sans",
                "labelFontSize": 14.5,
                "labelColor": "#000000",
                "labelOffset": 16,
                "symbolType": "square",
                "symbolSize": 5,
                "symbolStrokeWidth": 0,
                "labelExpr": "datum.label + '   '"
              }
            }
          }
        },
        {
          "data": {"name": "ridge1"},
          "mark": {"type": "point", "shape": "square", "filled": true, "size": 4, "opacity": 1},
          "encoding": {"color": {"datum": "1st ridge", "type": "nominal"}}
        },
        {
          "data": {"name": "ridge2"},
          "mark": {"type": "point", "shape": "square", "filled": true, "size": 4, "opacity": 1},
          "encoding": {"color": {"datum": "2nd ridge", "type": "nominal"}}
        }
      ]
    },
    {
      "width": 431,
      "height": 340,
      "title": {
        "text": ["(b) spiral shaped data set after the den-", "sity ridge translation algorithm."],
        "orient": "bottom",
        "anchor": "start",
        "frame": "group",
        "baseline": "top",
        "fontSize": 23.1,
        "dx": -36,
        "offset": 23
      },
      "data": {"name": "translated"},
      "mark": {"type": "point", "shape": "circle", "filled": true, "size": 34, "opacity": 0.78},
      "encoding": {
        "x": {"field": "x", "type": "quantitative", "scale": {"domain": [-5, 3], "nice": false, "zero": false}, "axis": {"values": [-5, -4, -3, -2, -1, 0, 1, 2, 3], "labelExpr": "'' + datum.value"}},
        "y": {"field": "y", "type": "quantitative", "scale": {"domain": [-2.5, 1.5], "nice": false, "zero": false}, "axis": {"values": [-2.5, -2, -1.5, -1, -0.5, 0, 0.5, 1, 1.5], "labelExpr": "'' + datum.value"}},
        "color": {
          "field": "t",
          "type": "quantitative",
          "scale": {"domain": [0, 0.125, 0.25, 0.375, 0.5, 0.625, 0.75, 0.875, 1], "range": ["#352A87", "#0363E1", "#1485D4", "#06A7C6", "#38B99E", "#92BF73", "#D9BA56", "#FCCE2E", "#F9FB0E"]},
          "legend": null
        }
      }
    }
  ]
}
